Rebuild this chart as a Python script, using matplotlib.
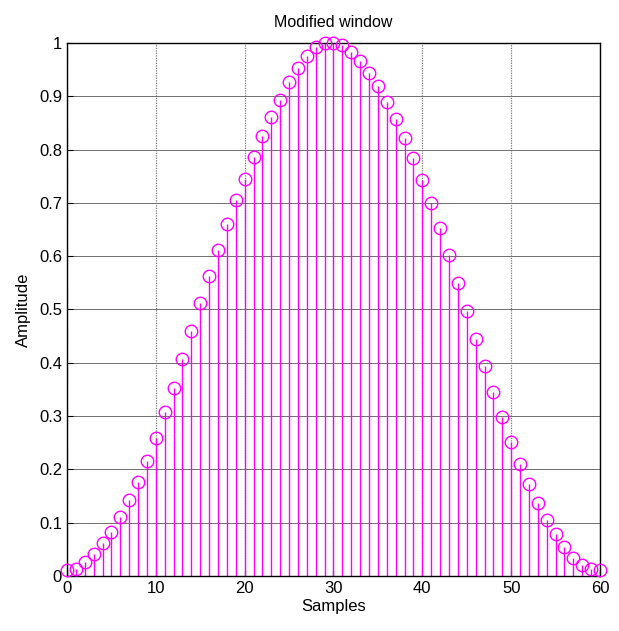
import numpy as np
import matplotlib
matplotlib.use("Agg")
import matplotlib.pyplot as plt

plt.rcParams['font.family'] = ['Liberation Sans', 'DejaVu Sans']

samples = list(range(61))
amplitude = [
    0.011, 0.014, 0.027, 0.041, 0.061, 0.083, 0.111, 0.142, 0.177, 0.216,
    0.259, 0.307, 0.353, 0.407, 0.460, 0.512, 0.562, 0.612, 0.661, 0.705,
    0.745, 0.787, 0.825, 0.861, 0.893, 0.927, 0.953, 0.976, 0.993, 1.000,
    1.000, 0.996, 0.983, 0.966, 0.944, 0.919, 0.889, 0.857, 0.822, 0.784,
    0.743, 0.699, 0.652, 0.603, 0.549, 0.497, 0.444, 0.394, 0.345, 0.299,
    0.251, 0.210, 0.172, 0.137, 0.105, 0.078, 0.055, 0.034, 0.021, 0.014,
    0.011,
]
x_ticks = [0, 10, 20, 30, 40, 50, 60]
y_ticks = [0, 0.1, 0.2, 0.3, 0.4, 0.5, 0.6, 0.7, 0.8, 0.9, 1]
y_labels = ['0', '0.1', '0.2', '0.3', '0.4', '0.5', '0.6', '0.7', '0.8', '0.9', '1']

fig = plt.figure(figsize=(6.19, 6.31), dpi=100)
ax = fig.add_axes([0.1082, 0.0872, 0.8611, 0.8447])

markers, stems, base = ax.stem(samples, amplitude, basefmt=' ')
plt.setp(stems, color='#ff00ff', linewidth=1.0)
plt.setp(markers, color='#ff00ff', markerfacecolor='none', marker='o',
         markersize=9, markeredgewidth=1.0, clip_on=False, zorder=4)

ax.set_xlim(0, 60)
ax.set_ylim(0, 1)
ax.set_xticks(x_ticks)
ax.set_yticks(y_ticks)
ax.set_yticklabels(y_labels)
ax.tick_params(direction='in', labelsize=12, length=4)
# MATLAB-ish grid: solid darker rows, dotted columns
ax.yaxis.grid(True, color='#6e6e6e', linewidth=0.7, linestyle='-')
ax.xaxis.grid(True, color='#7a7a7a', linewidth=0.9, linestyle=(0, (1, 1)))
ax.set_axisbelow(True)
for sp in ax.spines.values():
    sp.set_linewidth(1.0)

ax.set_title("Modified window", fontsize=11.5, pad=11.5)
ax.set_xlabel("Samples", fontsize=12, labelpad=2)
ax.set_ylabel("Amplitude", fontsize=12, labelpad=6)

fig.savefig("out.png", dpi=100)
